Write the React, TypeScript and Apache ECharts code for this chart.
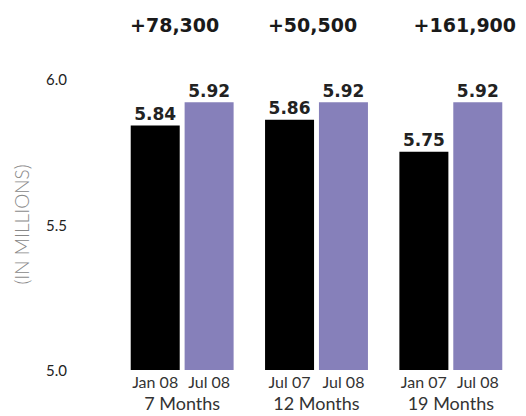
import React, { useEffect, useRef } from "react";
import * as echarts from "echarts";

const groups = ["7 Months", "12 Months", "19 Months"];
const startLabels = ["Jan 08", "Jul 07", "Jan 07"];
const endLabels = ["Jul 08", "Jul 08", "Jul 08"];
const startValues = [5.84, 5.86, 5.75];
const endValues = [5.92, 5.92, 5.92];
const changeLabels = ["+78,300", "+50,500", "+161,900"];
const yTicks = [5.0, 5.5, 6.0];

// style-only horizontal nudges for the top labels (padding, px)
const topPad = [
  [0, 15, 0, 0],
  [0, 8, 0, 0],
  [0, 0, 0, 28],
];

export default function App() {
  const ref = useRef<HTMLDivElement>(null);
  useEffect(() => {
    if (!ref.current) return;
    const chart = echarts.init(ref.current, null, { renderer: "svg" });
    const lightFont = "Lato, 'DejaVu Sans', sans-serif";
    const boldFont = "'DejaVu Sans', sans-serif";
    chart.setOption({
      animation: false,
      grid: { left: 115, right: 8, top: 79, bottom: 46, containLabel: false },
      xAxis: [
        {
          type: "category",
          data: groups,
          axisLine: { show: false },
          axisTick: { show: false },
          axisLabel: {
            margin: 1,
            interval: 0,
            formatter: (v: string, i: number) =>
              `{a|${startLabels[i]}}{g|}{b|${endLabels[i]}}\n{m|${v}}`,
            rich: {
              a: { width: 49, align: "center", fontSize: 16, color: "#333", fontFamily: lightFont, lineHeight: 20 },
              g: { width: 5 },
              b: { width: 49, align: "center", fontSize: 16, color: "#333", fontFamily: lightFont, lineHeight: 20 },
              m: { fontSize: 18, color: "#333", fontFamily: lightFont, lineHeight: 18, padding: [6, 0, 0, 0], align: "center" },
            },
          },
        },
        {
          type: "category",
          position: "top",
          data: changeLabels.map((c, i) => ({
            value: c,
            textStyle: { padding: topPad[i] },
          })),
          axisLine: { show: false },
          axisTick: { show: false },
          axisLabel: {
            margin: 45,
            interval: 0,
            fontSize: 19,
            fontWeight: "bold",
            fontFamily: boldFont,
            color: "#1a1a1a",
          },
        },
      ],
      yAxis: {
        type: "value",
        min: yTicks[0],
        max: yTicks[yTicks.length - 1],
        interval: 0.5,
        name: "(IN MILLIONS)",
        nameLocation: "middle",
        nameGap: 84,
        nameRotate: 90,
        nameTextStyle: { fontSize: 19, fontWeight: 300, color: "#888", fontFamily: lightFont },
        axisLine: { show: false },
        axisTick: { show: false },
        splitLine: { show: false },
        axisLabel: {
          margin: 48,
          fontSize: 15,
          color: "#222",
          fontFamily: lightFont,
          formatter: (v: number) => v.toFixed(1),
        },
      },
      series: [
        {
          type: "bar",
          data: startValues,
          barWidth: 49,
          barGap: "10%",
          itemStyle: { color: "#000" },
          label: {
            show: true,
            position: "top",
            distance: 3,
            fontSize: 17,
            fontWeight: "bold",
            fontFamily: boldFont,
            color: "#222",
            formatter: (p: any) => p.value.toFixed(2),
          },
        },
        {
          type: "bar",
          data: endValues,
          barWidth: 49,
          barGap: "10%",
          itemStyle: { color: "#8680BA" },
          label: {
            show: true,
            position: "top",
            distance: 3,
            fontSize: 17,
            fontWeight: "bold",
            fontFamily: boldFont,
            color: "#222",
            formatter: (p: any) => p.value.toFixed(2),
          },
        },
      ],
    });
    return () => chart.dispose();
  }, []);
  return (
    <div
      ref={ref}
      style={{ position: "fixed", left: 0, top: 0, width: 526, height: 416, background: "#fff" }}
    />
  );
}
